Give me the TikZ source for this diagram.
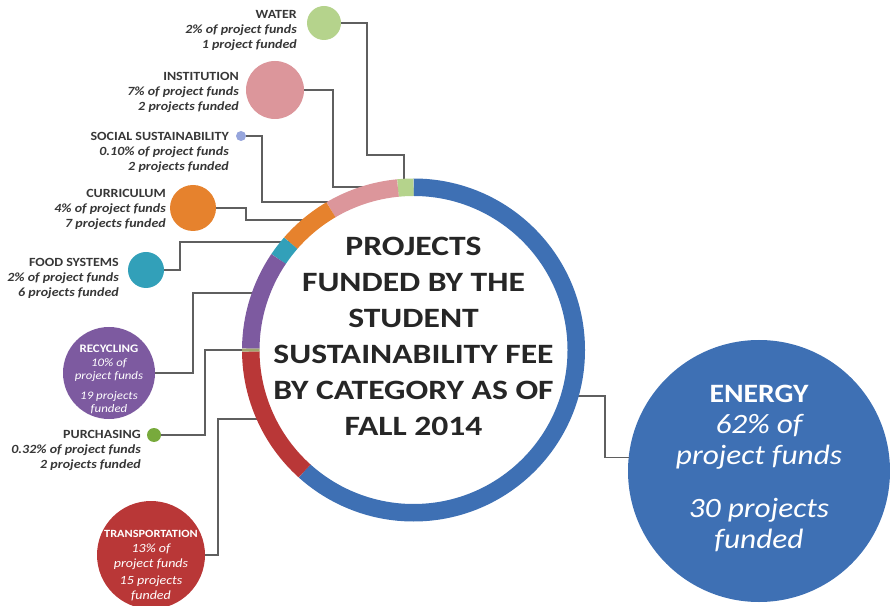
\documentclass[tikz,border=0pt]{standalone}
\usepackage{fontspec}
\setmainfont{Carlito}
\newfontfamily\titlefont[FakeStretch=1.2]{Carlito}
\newfontfamily\widefont[FakeStretch=1.12]{Carlito}
\usetikzlibrary{calc}

\definecolor{ssfblue}{RGB}{62,112,180}
\definecolor{waterc}{RGB}{181,211,140}
\definecolor{instc}{RGB}{220,150,155}
\definecolor{socialc}{RGB}{150,165,220}
\definecolor{currc}{RGB}{230,130,45}
\definecolor{foodc}{RGB}{50,160,185}
\definecolor{recyc}{RGB}{125,90,160}
\definecolor{purchc}{RGB}{120,170,60}
\definecolor{purchseg}{RGB}{160,165,110}
\definecolor{transc}{RGB}{185,55,55}
\definecolor{linkgray}{RGB}{95,95,95}
\definecolor{labelgray}{RGB}{55,55,55}

\begin{document}
\begin{tikzpicture}[x=1pt,y=1pt,
    bubble/.style={circle, inner sep=0pt, draw=none},
    link/.style={draw=linkgray, line width=1.5pt},
    seg/.style={line width=17.5pt},
    catlabel/.style={anchor=north east, align=right, inner sep=0pt, text=labelgray,
        font=\widefont\fontsize{12.5}{15}\selectfont\bfseries\itshape},
    intext/.style={anchor=north, align=center, inner sep=0pt, text=white}]
    \clip (0,0) rectangle (890,605);

    % Centre of the ring
    \coordinate (ring) at (413.5,255);

    % Draw the category bubbles
    \node[bubble, fill=waterc, minimum size=34pt] (water) at (324,582) {};
    \node[bubble, fill=instc, minimum size=58pt] (inst) at (275,515) {};
    \node[bubble, fill=socialc, minimum size=10pt] (social) at (241,469) {};
    \node[bubble, fill=currc, minimum size=46pt] (curr) at (193,397) {};
    \node[bubble, fill=foodc, minimum size=36pt] (food) at (146,335) {};
    \node[bubble, fill=recyc, minimum size=92pt] (recy) at (109,232) {};
    \node[bubble, fill=purchc, minimum size=14pt] (purch) at (154,170) {};
    \node[bubble, fill=transc, minimum size=108pt] (trans) at (151,50) {};
    \node[bubble, fill=ssfblue, minimum size=262pt] (energy) at (759,134) {};

    % Points where the connectors meet the ring
    \coordinate (rWater) at ($(ring)+(93.3:167)$);
    \coordinate (rInst) at ($(ring)+(100.9:166)$);
    \coordinate (rSocial) at ($(ring)+(114.8:163)$);
    \coordinate (rCurr) at ($(ring)+(127.1:163)$);
    \coordinate (rFood) at ($(ring)+(138.5:163)$);
    \coordinate (rRecy) at ($(ring)+(159.5:163)$);
    \coordinate (rPurch) at ($(ring)+(180:163)$);
    \coordinate (rTrans) at ($(ring)+(205:163)$);
    \coordinate (rEnergy) at ($(ring)+(-16.4:163)$);

    % Draw the connectors
    \draw[link] (water.east) -| ++(26,-132) -| (rWater);
    \draw[link] (inst.east) -- ++(29,0) |- (rInst);
    \draw[link] (social.east) -- ++(16,0) |- (rSocial);
    \draw[link] (curr.east) -- ++(30,0) |- (rCurr);
    \draw[link] (food.east) -- ++(16,0) |- (rFood);
    \draw[link] (recy.east) -- ++(38,0) |- (rRecy);
    \draw[link] (purch.east) -- ++(44,0) |- (rPurch);
    \draw[link] (trans.east) -- ++(13,0) |- (rTrans);
    \draw[link] (rEnergy) -- ++(35,0) |- (energy.174);

    % Draw the ring segments over the connector ends
    \foreach \a/\b/\c in {90/-132/ssfblue, 90/95.5/waterc, 95.5/120.5/instc,
        120.5/139/currc, 139/146/foodc, 146/179.5/recyc, 179.5/180.6/purchseg,
        180.6/228/transc}
        \draw[seg, \c] (ring) ++(\a:162.75) arc[start angle=\a, end angle=\b, radius=162.75];

    % Title in the ring
    \node[align=center, inner sep=0pt, text=black!85,
        font=\titlefont\fontsize{28}{36}\selectfont\bfseries]
        (title) at (413.5,268.5)
        {PROJECTS\\FUNDED BY THE\\STUDENT\\SUSTAINABILITY FEE\\BY CATEGORY AS OF\\FALL 2014};

    % Labels beside the small bubbles
    \node[catlabel] (waterTxt) at (297,595)
        {{\upshape WATER}\\2\% of project funds\\1 project funded};
    \node[catlabel] (instTxt) at (239,533)
        {{\upshape INSTITUTION}\\7\% of project funds\\2 projects funded};
    \node[catlabel] (socialTxt) at (229,473)
        {{\upshape SOCIAL SUSTAINABILITY}\\0.10\% of project funds\\2 projects funded};
    \node[catlabel] (currTxt) at (166,416)
        {{\upshape CURRICULUM}\\4\% of project funds\\7 projects funded};
    \node[catlabel] (foodTxt) at (119,347)
        {{\upshape FOOD SYSTEMS}\\2\% of project funds\\6 projects funded};
    \node[catlabel] (purchTxt) at (141,175)
        {{\upshape PURCHASING}\\0.32\% of project funds\\2 projects funded};

    % Text inside the large bubbles
    \node[intext, font=\widefont\fontsize{11.5}{13.5}\selectfont\itshape] (recyTxt) at (109,260)
        {{\upshape\bfseries RECYCLING}\\10\% of\\project funds\\[6pt]19 projects\\funded};
    \node[intext, font=\widefont\fontsize{12.5}{15}\selectfont\itshape] (transTxt) at (151,75)
        {{\upshape\bfseries\fontsize{11}{15}\selectfont TRANSPORTATION}\\13\% of\\project funds\\[2pt]15 projects\\funded};
    \node[intext, font=\widefont\fontsize{28}{31}\selectfont\itshape] (energyTxt) at (759,220)
        {{\upshape\bfseries\fontsize{26.5}{31}\selectfont ENERGY}\\62\% of\\project funds\\[22pt]30 projects\\funded};
\end{tikzpicture}
\end{document}
